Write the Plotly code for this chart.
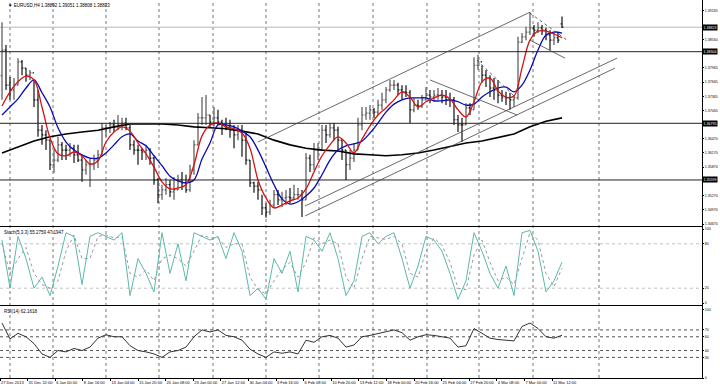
import plotly.graph_objects as go

# ---------------- data ----------------
SYMBOL = "EURUSD,H4"
LAST_OPEN, LAST_HIGH, LAST_LOW, LAST_CLOSE = 1.38892, 1.39051, 1.38808, 1.38823
FIRST_OPEN = 1.3780

high = [1.3893,1.3845,1.3777,1.3775,1.3817,1.3813,1.3796,1.3792,1.3771,1.3750,
        1.3676,1.3665,1.3644,1.3623,1.3651,1.3640,1.3634,1.3638,1.3634,1.3634,
        1.3613,1.3602,1.3606,1.3613,1.3623,1.3680,1.3676,1.3682,1.3687,1.3697,
        1.3691,1.3691,1.3676,1.3644,1.3634,1.3627,1.3634,1.3627,1.3609,1.3564,
        1.3550,1.3564,1.3560,1.3566,1.3571,1.3577,1.3571,1.3592,1.3644,1.3701,
        1.3735,1.3739,1.3697,1.3714,1.3708,1.3687,1.3691,1.3687,1.3676,1.3676,
        1.3676,1.3659,1.3602,1.3556,1.3556,1.3529,1.3511,1.3518,1.3539,1.3539,
        1.3535,1.3539,1.3543,1.3550,1.3543,1.3539,1.3617,1.3613,1.3638,1.3638,
        1.3676,1.3676,1.3680,1.3680,1.3672,1.3644,1.3623,1.3623,1.3638,1.3691,
        1.3714,1.3714,1.3718,1.3712,1.3729,1.3744,1.3756,1.3771,1.3771,1.3765,
        1.3760,1.3760,1.3750,1.3733,1.3729,1.3739,1.3756,1.3750,1.3750,1.3754,
        1.3750,1.3750,1.3744,1.3735,1.3697,1.3691,1.3722,1.3722,1.3819,1.3824,
        1.3802,1.3792,1.3781,1.3775,1.3771,1.3750,1.3746,1.3744,1.3739,1.3862,
        1.3870,1.3883,1.3914,1.3887,1.3893,1.3887,1.3881,1.3876,1.3870,1.3870,
        LAST_HIGH]
low = [1.3729,1.3750,1.3729,1.3729,1.3760,1.3781,1.3767,1.3771,1.3714,1.3651,
       1.3634,1.3623,1.3581,1.3575,1.3598,1.3602,1.3602,1.3609,1.3596,1.3598,
       1.3556,1.3571,1.3545,1.3581,1.3585,1.3613,1.3651,1.3659,1.3661,1.3665,
       1.3665,1.3665,1.3623,1.3613,1.3592,1.3602,1.3602,1.3592,1.3550,1.3511,
       1.3518,1.3529,1.3524,1.3518,1.3539,1.3539,1.3533,1.3535,1.3571,1.3634,
       1.3676,1.3676,1.3670,1.3672,1.3676,1.3655,1.3665,1.3649,1.3627,1.3644,
       1.3609,1.3592,1.3545,1.3533,1.3518,1.3486,1.3480,1.3486,1.3501,1.3507,
       1.3503,1.3507,1.3511,1.3518,1.3518,1.3482,1.3518,1.3577,1.3581,1.3602,
       1.3623,1.3638,1.3649,1.3644,1.3623,1.3602,1.3560,1.3581,1.3598,1.3623,
       1.3665,1.3687,1.3687,1.3691,1.3697,1.3708,1.3722,1.3746,1.3750,1.3739,
       1.3729,1.3735,1.3680,1.3703,1.3708,1.3712,1.3729,1.3722,1.3725,1.3729,
       1.3722,1.3718,1.3714,1.3676,1.3661,1.3640,1.3676,1.3697,1.3708,1.3792,
       1.3765,1.3756,1.3735,1.3729,1.3722,1.3725,1.3718,1.3708,1.3714,1.3729,
       1.3849,1.3855,1.3866,1.3862,1.3870,1.3866,1.3855,1.3834,1.3845,1.3849,
       LAST_LOW]
close = [1.3834,1.3760,1.3750,1.3760,1.3809,1.3796,1.3781,1.3786,1.3729,1.3665,
         1.3655,1.3644,1.3592,1.3602,1.3634,1.3623,1.3623,1.3627,1.3613,1.3602,
         1.3581,1.3592,1.3592,1.3602,1.3613,1.3670,1.3670,1.3676,1.3672,1.3676,
         1.3680,1.3670,1.3634,1.3623,1.3623,1.3619,1.3623,1.3606,1.3560,1.3529,
         1.3539,1.3550,1.3535,1.3539,1.3560,1.3554,1.3539,1.3581,1.3634,1.3691,
         1.3691,1.3697,1.3682,1.3691,1.3682,1.3676,1.3672,1.3665,1.3655,1.3665,
         1.3644,1.3602,1.3554,1.3547,1.3539,1.3501,1.3492,1.3507,1.3529,1.3518,
         1.3522,1.3524,1.3522,1.3529,1.3529,1.3518,1.3606,1.3592,1.3623,1.3623,
         1.3665,1.3655,1.3670,1.3665,1.3644,1.3623,1.3592,1.3606,1.3623,1.3676,
         1.3697,1.3701,1.3708,1.3703,1.3718,1.3729,1.3750,1.3760,1.3760,1.3750,
         1.3746,1.3744,1.3708,1.3718,1.3716,1.3729,1.3739,1.3735,1.3739,1.3739,
         1.3735,1.3729,1.3729,1.3687,1.3676,1.3676,1.3712,1.3708,1.3802,1.3809,
         1.3781,1.3775,1.3754,1.3750,1.3739,1.3735,1.3733,1.3729,1.3733,1.3851,
         1.3862,1.3872,1.3881,1.3876,1.3881,1.3876,1.3866,1.3855,1.3860,1.3855,
         LAST_CLOSE]

# moving averages read every 2 bars (red, blue) and every 4 bars (black)
ma_red = [1.3716,1.3746,1.3767,1.3779,1.3771,1.3714,1.3649,1.3615,1.3611,1.3619,
          1.3611,1.3594,1.3600,1.3640,1.3661,1.3672,1.3663,1.3638,1.3615,1.3587,
          1.3556,1.3541,1.3543,1.3550,1.3592,1.3653,1.3676,1.3680,1.3672,1.3668,
          1.3659,1.3627,1.3560,1.3522,1.3501,1.3507,1.3516,1.3522,1.3541,1.3577,
          1.3611,1.3634,1.3651,1.3638,1.3617,1.3646,1.3674,1.3697,1.3712,1.3729,
          1.3746,1.3735,1.3714,1.3725,1.3733,1.3739,1.3731,1.3708,1.3693,1.3725,
          1.3767,1.3775,1.3748,1.3735,1.3737,1.3796,1.3855,1.3874,1.3874,1.3868,
          1.3860]
ma_blue = [1.3697,1.3714,1.3731,1.3754,1.3771,1.3744,1.3714,1.3670,1.3640,1.3623,
           1.3613,1.3606,1.3606,1.3617,1.3634,1.3651,1.3657,1.3642,1.3632,1.3611,
           1.3590,1.3568,1.3558,1.3554,1.3560,1.3604,1.3638,1.3676,1.3676,1.3672,
           1.3663,1.3651,1.3623,1.3587,1.3550,1.3520,1.3509,1.3514,1.3526,1.3543,
           1.3571,1.3602,1.3623,1.3632,1.3636,1.3642,1.3659,1.3680,1.3703,1.3720,
           1.3729,1.3733,1.3733,1.3733,1.3727,1.3727,1.3729,1.3725,1.3718,1.3720,
           1.3735,1.3746,1.3754,1.3756,1.3746,1.3760,1.3792,1.3834,1.3866,1.3872,
           1.3870]
ma_black = [1.3617,1.3630,1.3642,1.3651,1.3657,1.3661,1.3665,1.3672,1.3678,1.3678,
            1.3678,1.3676,1.3672,1.3670,1.3668,1.3663,1.3657,1.3644,1.3634,1.3627,
            1.3623,1.3621,1.3615,1.3613,1.3611,1.3613,1.3617,1.3623,1.3630,1.3638,
            1.3642,1.3649,1.3657,1.3672,1.3684,1.3691]

STOCH_LAST = (55.2759, 47.1947)
RSI_LAST = 62.1618
stoch_main = [85,20,90,60,20,35,10,50,95,90,25,90,95,90,85,95,10,60,40,15,
              95,40,80,30,95,90,85,90,60,95,70,10,20,5,60,40,70,15,90,85,
              70,95,60,10,30,90,95,80,90,95,60,20,50,90,85,70,40,5,30,95,
              70,40,20,50,10,95,98,70,15,30,STOCH_LAST[0]]
stoch_signal = [80,40,60,75,40,25,20,30,70,92,60,60,90,92,88,90,40,35,45,30,
                60,65,60,50,70,92,88,88,75,80,80,35,18,12,30,45,55,35,55,88,
                80,85,80,35,20,60,90,88,86,90,80,40,35,70,88,78,55,20,18,65,
                85,55,30,35,25,60,95,85,40,22,STOCH_LAST[1]]
rsi_vals = [80,57,65,60,50,35,30,40,38,43,40,45,58,63,60,60,47,40,38,35,
            30,38,40,45,60,70,67,70,62,60,55,42,35,30,38,36,38,35,55,52,
            60,62,58,45,48,60,62,65,68,70,66,55,60,63,62,60,58,45,47,72,
            65,58,56,55,54,75,80,72,60,58,RSI_LAST]

price_ticks = [1.39165, 1.38560, 1.37965, 1.37665, 1.37365, 1.37065,
               1.36470, 1.36170, 1.35870, 1.35270, 1.34970, 1.34670]
level_prices = [1.38306, 1.36795, 1.35599]
level_labels = ["1.38304", "1.36795", "1.35599"]
stoch_levels = [80, 20]
rsi_levels = [70, 60, 40, 30]
time_labels = ["27 Dec 2013", "31 Dec 12:00", "6 Jan 00:00", "8 Jan 16:00", "13 Jan 04:00",
               "15 Jan 20:00", "20 Jan 08:00", "23 Jan 00:00", "27 Jan 12:00", "30 Jan 04:00",
               "3 Feb 16:00", "6 Feb 08:00", "10 Feb 20:00", "13 Feb 12:00", "18 Feb 00:00",
               "20 Feb 16:00", "25 Feb 04:00", "27 Feb 20:00", "4 Mar 08:00", "7 Mar 00:00",
               "11 Mar 12:00"]
# user-drawn objects: (bar0, price0, bar1, price1, dash)
trendlines = [(64.0, 1.3640, 132.0, 1.3914, "solid"),
              (75.75, 1.3505, 153.75, 1.3817, "solid"),
              (75.75, 1.3484, 153.25, 1.3796, "solid"),
              (107.0, 1.3771, 128.75, 1.3697, "solid"),
              (118.75, 1.3813, 128.25, 1.3735, "dot"),
              (132.0, 1.3912, 141.25, 1.3855, "dot"),
              (132.0, 1.3855, 140.75, 1.3817, "solid")]
grid_bars = [2.0, 12.75, 26.0, 39.25, 52.75, 66.0, 79.25, 92.75, 106.25, 119.25, 132.75, 149.25]

# ---------------- figure ----------------
W, H = 720, 388
ML, MR, MT, MB = 0, 18, 0, 10
PH = H - MT - MB
X_RANGE = [-0.5, 175.0]
FONT = "Liberation Sans"

def dom(top_px, bot_px):
    return [1 - bot_px / PH, 1 - top_px / PH]

bars = list(range(len(close)))
opens = [FIRST_OPEN] + close[:-2] + [LAST_OPEN]
ma2_x = [2 * k for k in range(len(ma_red))]
ma4_x = [4 * k for k in range(len(ma_black))]

fig = go.Figure()
fig.add_trace(go.Ohlc(x=bars, open=opens, high=high, low=low, close=close,
                      increasing=dict(line=dict(color="#555555", width=1.2)),
                      decreasing=dict(line=dict(color="#111111", width=1.2)),
                      tickwidth=0.35, xaxis="x", yaxis="y", hoverinfo="skip"))
fig.add_trace(go.Scatter(x=ma4_x, y=ma_black, mode="lines", line=dict(color="black", width=1.6),
                         xaxis="x", yaxis="y"))
fig.add_trace(go.Scatter(x=ma2_x, y=ma_blue, mode="lines", line=dict(color="#0a0ab4", width=1.3, shape="spline"),
                         xaxis="x", yaxis="y"))
fig.add_trace(go.Scatter(x=ma2_x, y=ma_red, mode="lines", line=dict(color="#d41414", width=1.3, shape="spline"),
                         xaxis="x", yaxis="y"))
fig.add_trace(go.Scatter(x=ma2_x, y=stoch_signal, mode="lines", line=dict(color="#9a9a9a", width=1, dash="dot"),
                         xaxis="x2", yaxis="y2"))
fig.add_trace(go.Scatter(x=ma2_x, y=stoch_main, mode="lines", line=dict(color="#5cb8ad", width=1),
                         xaxis="x2", yaxis="y2"))
fig.add_trace(go.Scatter(x=ma2_x, y=rsi_vals, mode="lines", line=dict(color="#333333", width=1),
                         xaxis="x3", yaxis="y3"))

shapes = []
for gb in grid_bars:
    shapes.append(dict(type="line", xref="x", yref="paper", x0=gb, x1=gb, y0=0, y1=1,
                       line=dict(color="#777777", width=1, dash="dot"), layer="below"))
shapes.append(dict(type="line", xref="x domain", yref="y", x0=0, x1=1, y0=LAST_CLOSE, y1=LAST_CLOSE,
                   line=dict(color="#b8b8b8", width=1), layer="below"))
for lp in level_prices:
    shapes.append(dict(type="line", xref="x domain", yref="y", x0=0, x1=1, y0=lp, y1=lp,
                       line=dict(color="#222222", width=1)))
for x0, p0, x1, p1, ds in trendlines:
    shapes.append(dict(type="line", xref="x", yref="y", x0=x0, x1=x1, y0=p0, y1=p1,
                       line=dict(color="#444444", width=0.8, dash=ds)))
for lv in stoch_levels:
    shapes.append(dict(type="line", xref="x2 domain", yref="y2", x0=0, x1=1, y0=lv, y1=lv,
                       line=dict(color="#c0c0c0", width=1, dash="dot"), layer="below"))
for lv in rsi_levels:
    shapes.append(dict(type="line", xref="x3 domain", yref="y3", x0=0, x1=1, y0=lv, y1=lv,
                       line=dict(color="#555555", width=1, dash="dot"), layer="below"))

annotations = []
annotations.append(dict(xref="paper", yref="paper", x=0.008, y=1 - 1 / PH, xanchor="left", yanchor="top",
                        showarrow=False, font=dict(family=FONT, size=4.5, color="black"),
                        text="\u25BC %s %.5f %.5f %.5f %.5f" % (SYMBOL, LAST_OPEN, LAST_HIGH, LAST_LOW, LAST_CLOSE)))
annotations.append(dict(xref="paper", yref="paper", x=0.003, y=dom(228, 305)[1], xanchor="left", yanchor="top",
                        showarrow=False, font=dict(family=FONT, size=4.5, color="black"),
                        text="Stoch(5,3,3) %.4f %.4f" % STOCH_LAST))
annotations.append(dict(xref="paper", yref="paper", x=0.003, y=dom(307, 378)[1], xanchor="left", yanchor="top",
                        showarrow=False, font=dict(family=FONT, size=4.5, color="black"),
                        text="RSI(14) %.4f" % RSI_LAST))
for val, txt in [(LAST_CLOSE, "%.5f" % LAST_CLOSE)] + list(zip(level_prices, level_labels)):
    annotations.append(dict(xref="paper", yref="y", x=1, y=val, xanchor="left", yanchor="middle",
                            showarrow=False, bgcolor="black", borderpad=0.5,
                            font=dict(family=FONT, size=3.6, color="white"), text=txt))

axis_common = dict(showline=True, mirror=True, linecolor="black", linewidth=1, automargin=False,
                   showgrid=False, zeroline=False, range=X_RANGE)
yaxis_common = dict(side="right", showline=True, mirror=True, linecolor="black", linewidth=1,
                    automargin=False, showgrid=False, zeroline=False, ticks="outside", ticklen=1,
                    tickcolor="black", tickfont=dict(family=FONT, size=3.6, color="black"))

fig.update_layout(
    width=W, height=H, margin=dict(l=ML, r=MR, t=MT, b=MB, pad=0, autoexpand=False),
    paper_bgcolor="white", plot_bgcolor="white", showlegend=False, hovermode=False,
    xaxis=dict(domain=[0, 1], anchor="y", showticklabels=False, rangeslider=dict(visible=False), **axis_common),
    xaxis2=dict(domain=[0, 1], anchor="y2", matches="x", showticklabels=False, **axis_common),
    xaxis3=dict(domain=[0, 1], anchor="y3", matches="x", tickmode="array",
                tickvals=[6.9 * k - 0.5 for k in range(len(time_labels))], ticktext=time_labels,
                ticks="outside", ticklen=2, tickcolor="black", ticklabelposition="outside right",
                tickangle=0, tickfont=dict(family=FONT, size=4, color="black"), **axis_common),
    yaxis=dict(domain=dom(0, 226), anchor="x", range=[1.34628, 1.39397], tickmode="array",
               tickvals=price_ticks, ticktext=["%.5f" % v for v in price_ticks], **yaxis_common),
    yaxis2=dict(domain=dom(227, 305), anchor="x2", range=[-2.7, 102.7], tickmode="array",
                tickvals=[100, 80, 20, 0], **yaxis_common),
    yaxis3=dict(domain=dom(306, 378), anchor="x3", range=[0, 104.8], tickmode="array",
                tickvals=[100, 70, 60, 40, 30, 0], **yaxis_common),
    shapes=shapes, annotations=annotations,
)

fig.write_html("out.html", config={"displayModeBar": False, "staticPlot": True},
               post_script="document.body.style.margin='0';document.body.style.overflow='hidden';")
